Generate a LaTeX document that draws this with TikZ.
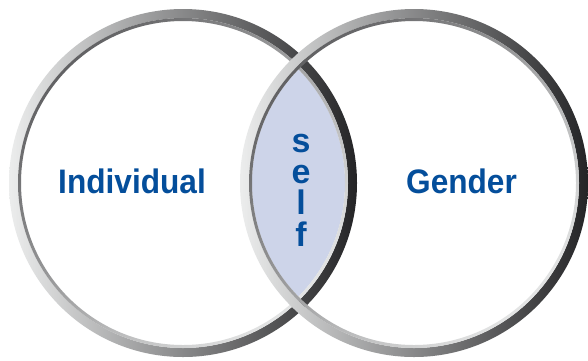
\documentclass[tikz,border=0pt]{standalone}
\usepackage{fontspec}
\setmainfont{Liberation Sans}
\definecolor{labelblue}{RGB}{4,78,155}
\definecolor{lensfill}{RGB}{205,212,233}
\definecolor{rimlight}{RGB}{236,237,237}
\definecolor{rimmid}{RGB}{150,150,152}
\definecolor{rimdark}{RGB}{36,36,38}
\definecolor{edgedark}{RGB}{98,98,100}
\definecolor{edgelight}{RGB}{228,229,229}

% slightly condensed bold lettering
\newcommand{\narrowlabel}[1]{\scalebox{0.93}[1]{#1}}

\tikzset{
  labeltext/.style={text=labelblue, font=\fontsize{34}{38}\selectfont\bfseries, inner sep=0pt, anchor=base},
  stacked/.style={text=labelblue, font=\fontsize{34}{31.3}\selectfont\bfseries, inner sep=0pt, align=center},
  rim/.style={even odd rule, left color=rimlight, middle color=rimmid, right color=rimdark},
  rimedge/.style={even odd rule, top color=edgedark, bottom color=edgelight, shading angle=45},
}

\begin{document}
\begin{tikzpicture}[x=1pt,y=-1pt]
  \useasboundingbox (0,0) rectangle (588,360);
  \fill[white] (0,0) rectangle (588,360);

  % centres of the two circles
  \coordinate (L) at (183,183);
  \coordinate (R) at (414,183);

  % shared region of the two discs
  \begin{scope}
    \clip (L) circle (162);
    \fill[lensfill] (R) circle (162);
  \end{scope}

  % bevelled rings: outer band plus a thin inner edge
  \foreach \ctr in {L,R} {
    \shade[rim] (\ctr) circle (174) (\ctr) circle (165);
    \shade[rimedge] (\ctr) circle (165) (\ctr) circle (162);
  }

  % labels
  \node[labeltext] (ind) at (132,193) {\narrowlabel{Individual}};
  \node[labeltext] (gen) at (461.5,193) {\narrowlabel{Gender}};
  \node[stacked] (self) at (301,190) {s\\e\\l\\f};
\end{tikzpicture}
\end{document}
